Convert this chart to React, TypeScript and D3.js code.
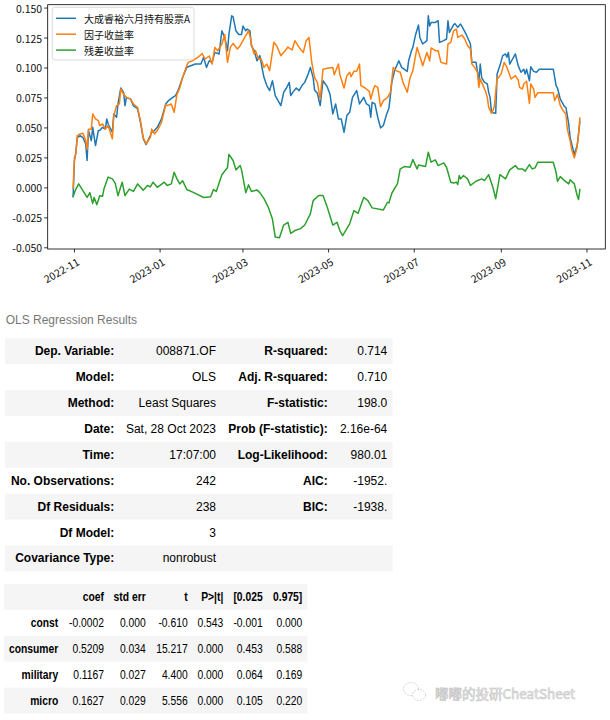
import React from "react";
import * as d3 from "d3";

// ---------- DATA ----------
const seriesNames = ["大成睿裕六月持有股票A", "因子收益率", "残差收益率"];
const seriesColors = ["#1f77b4", "#ff7f0e", "#2ca02c"];

const fundReturn: [string, number][] = [
  ["2022-10-31",-0.008],["2022-11-01",0.0228],["2022-11-02",0.0297],["2022-11-03",0.042],["2022-11-05",0.0436],["2022-11-07",0.042],["2022-11-09",0.0367],["2022-11-10",0.0228],["2022-11-11",0.0478],["2022-11-13",0.0394],["2022-11-14",0.0505],["2022-11-16",0.0353],["2022-11-18",0.0478],["2022-11-19",0.0478],["2022-11-21",0.0505],["2022-11-23",0.049],["2022-11-24",0.0575],["2022-11-25",0.0533],["2022-11-28",0.0464],["2022-11-29",0.0617],["2022-12-01",0.0589],["2022-12-02",0.07],["2022-12-04",0.0833],["2022-12-06",0.0797],["2022-12-07",0.0686],["2022-12-08",0.0755],["2022-12-11",0.074],["2022-12-13",0.0686],["2022-12-16",0.0658],["2022-12-18",0.0547],["2022-12-20",0.041],["2022-12-22",0.0361],["2022-12-25",0.0436],["2022-12-26",0.0464],["2022-12-28",0.0478],["2022-12-30",0.0505],["2023-01-02",0.0575],["2023-01-05",0.07],["2023-01-07",0.0728],["2023-01-10",0.0755],["2023-01-12",0.077],["2023-01-14",0.0817],["2023-01-17",0.092],["2023-01-20",0.1005],["2023-01-21",0.101],["2023-01-26",0.1033],["2023-01-30",0.1033],["2023-02-01",0.109],["2023-02-03",0.1005],["2023-02-05",0.106],["2023-02-07",0.1047],["2023-02-09",0.113],["2023-02-12",0.1117],["2023-02-14",0.131],["2023-02-16",0.1255],["2023-02-18",0.1144],["2023-02-19",0.128],["2023-02-21",0.1436],["2023-02-22",0.1427],["2023-02-24",0.131],["2023-02-26",0.128],["2023-02-28",0.128],["2023-03-01",0.135],["2023-03-03",0.131],["2023-03-04",0.1325],["2023-03-06",0.131],["2023-03-07",0.1186],["2023-03-09",0.1144],["2023-03-11",0.106],["2023-03-13",0.1103],["2023-03-15",0.0978],["2023-03-16",0.092],["2023-03-18",0.0853],["2023-03-20",0.0811],["2023-03-22",0.0894],["2023-03-24",0.077],["2023-03-26",0.0728],["2023-03-28",0.0686],["2023-03-30",0.0797],["2023-04-01",0.0833],["2023-04-03",0.088],["2023-04-04",0.077],["2023-04-06",0.0805],["2023-04-08",0.0833],["2023-04-10",0.0811],["2023-04-12",0.0853],["2023-04-14",0.088],["2023-04-16",0.0936],["2023-04-18",0.1005],["2023-04-20",0.092],["2023-04-21",0.0817],["2023-04-23",0.0789],["2023-04-25",0.0686],["2023-04-27",0.0894],["2023-04-30",0.0844],["2023-05-02",0.078],["2023-05-04",0.0617],["2023-05-06",0.07],["2023-05-08",0.0575],["2023-05-10",0.0575],["2023-05-12",0.0464],["2023-05-14",0.0603],["2023-05-16",0.063],["2023-05-18",0.0755],["2023-05-21",0.0811],["2023-05-23",0.07],["2023-05-26",0.0755],["2023-05-28",0.07],["2023-05-30",0.0686],["2023-05-31",0.0589],["2023-06-01",0.0714],["2023-06-03",0.07],["2023-06-05",0.0589],["2023-06-07",0.05],["2023-06-09",0.052],["2023-06-11",0.0603],["2023-06-13",0.0667],["2023-06-15",0.088],["2023-06-17",0.0978],["2023-06-20",0.106],["2023-06-22",0.1005],["2023-06-26",0.0972],["2023-06-27",0.106],["2023-06-29",0.1144],["2023-06-30",0.1172],["2023-07-02",0.128],["2023-07-04",0.1358],["2023-07-05",0.1255],["2023-07-07",0.12],["2023-07-10",0.1228],["2023-07-11",0.1436],["2023-07-12",0.135],["2023-07-13",0.138],["2023-07-16",0.138],["2023-07-18",0.1394],["2023-07-19",0.1214],["2023-07-22",0.1228],["2023-07-24",0.1242],["2023-07-25",0.1394],["2023-07-26",0.1297],["2023-07-29",0.136],["2023-07-30",0.137],["2023-08-01",0.1339],["2023-08-03",0.1367],["2023-08-05",0.1325],["2023-08-07",0.128],["2023-08-10",0.12],["2023-08-11",0.1047],["2023-08-14",0.1047],["2023-08-16",0.0894],["2023-08-17",0.1033],["2023-08-18",0.092],["2023-08-20",0.088],["2023-08-22",0.0867],["2023-08-23",0.0797],["2023-08-24",0.0755],["2023-08-25",0.063],["2023-08-28",0.0622],["2023-08-29",0.095],["2023-08-31",0.102],["2023-09-02",0.1103],["2023-09-04",0.1117],["2023-09-05",0.109],["2023-09-06",0.113],["2023-09-07",0.1033],["2023-09-09",0.1075],["2023-09-11",0.1117],["2023-09-13",0.102],["2023-09-15",0.0964],["2023-09-17",0.099],["2023-09-18",0.095],["2023-09-19",0.099],["2023-09-21",0.0894],["2023-09-22",0.101],["2023-09-24",0.0972],["2023-09-26",0.0964],["2023-09-28",0.099],["2023-10-08",0.099],["2023-10-10",0.0853],["2023-10-11",0.0833],["2023-10-13",0.074],["2023-10-16",0.0678],["2023-10-17",0.0672],["2023-10-19",0.0533],["2023-10-20",0.042],["2023-10-22",0.0325],["2023-10-23",0.0278],["2023-10-25",0.0353],["2023-10-26",0.045],["2023-10-27",0.056]
];

const factorReturn: [string, number][] = [
  ["2022-10-31",-0.001],["2022-11-01",0.0255],["2022-11-02",0.028],["2022-11-03",0.0436],["2022-11-05",0.045],["2022-11-07",0.0455],["2022-11-09",0.0394],["2022-11-10",0.032],["2022-11-11",0.049],["2022-11-13",0.049],["2022-11-14",0.0617],["2022-11-16",0.0575],["2022-11-18",0.056],["2022-11-19",0.052],["2022-11-21",0.0533],["2022-11-23",0.049],["2022-11-25",0.052],["2022-11-28",0.041],["2022-11-29",0.06],["2022-12-01",0.0686],["2022-12-03",0.07],["2022-12-04",0.0825],["2022-12-06",0.078],["2022-12-08",0.0755],["2022-12-11",0.074],["2022-12-13",0.07],["2022-12-16",0.067],["2022-12-18",0.056],["2022-12-20",0.042],["2022-12-22",0.0367],["2022-12-25",0.042],["2022-12-26",0.049],["2022-12-28",0.045],["2022-12-30",0.0478],["2023-01-02",0.0547],["2023-01-05",0.0694],["2023-01-06",0.0686],["2023-01-09",0.07],["2023-01-11",0.063],["2023-01-13",0.078],["2023-01-15",0.0833],["2023-01-17",0.092],["2023-01-20",0.102],["2023-01-21",0.1047],["2023-01-24",0.106],["2023-01-28",0.109],["2023-01-31",0.112],["2023-02-02",0.1075],["2023-02-05",0.11],["2023-02-07",0.1033],["2023-02-09",0.1172],["2023-02-11",0.1144],["2023-02-14",0.12],["2023-02-16",0.128],["2023-02-18",0.1047],["2023-02-20",0.1172],["2023-02-22",0.1205],["2023-02-25",0.1158],["2023-02-27",0.1186],["2023-03-01",0.1228],["2023-03-03",0.127],["2023-03-05",0.131],["2023-03-06",0.127],["2023-03-07",0.12],["2023-03-09",0.1117],["2023-03-10",0.1144],["2023-03-12",0.1075],["2023-03-14",0.1075],["2023-03-16",0.1005],["2023-03-18",0.1033],["2023-03-20",0.0978],["2023-03-23",0.1214],["2023-03-25",0.1186],["2023-03-28",0.1103],["2023-03-31",0.1144],["2023-04-02",0.1175],["2023-04-05",0.115],["2023-04-07",0.1228],["2023-04-10",0.1172],["2023-04-13",0.113],["2023-04-15",0.1228],["2023-04-17",0.1255],["2023-04-19",0.1047],["2023-04-21",0.092],["2023-04-23",0.088],["2023-04-25",0.074],["2023-04-27",0.099],["2023-05-01",0.1],["2023-05-04",0.1005],["2023-05-05",0.0944],["2023-05-08",0.1033],["2023-05-09",0.0944],["2023-05-12",0.0833],["2023-05-14",0.0936],["2023-05-16",0.0964],["2023-05-17",0.0928],["2023-05-19",0.0972],["2023-05-21",0.0972],["2023-05-23",0.1033],["2023-05-24",0.0853],["2023-05-27",0.0833],["2023-05-30",0.0805],["2023-05-31",0.074],["2023-06-02",0.0825],["2023-06-03",0.0853],["2023-06-05",0.0838],["2023-06-07",0.0678],["2023-06-09",0.0728],["2023-06-12",0.0755],["2023-06-14",0.0797],["2023-06-16",0.1005],["2023-06-18",0.0978],["2023-06-21",0.0964],["2023-06-23",0.088],["2023-06-26",0.0797],["2023-06-28",0.0917],["2023-06-30",0.0978],["2023-07-03",0.1172],["2023-07-06",0.106],["2023-07-07",0.1019],["2023-07-10",0.113],["2023-07-12",0.106],["2023-07-13",0.1167],["2023-07-16",0.1144],["2023-07-18",0.1144],["2023-07-20",0.1047],["2023-07-24",0.1033],["2023-07-25",0.12],["2023-07-27",0.1214],["2023-07-29",0.131],["2023-07-31",0.1325],["2023-08-01",0.1255],["2023-08-04",0.1275],["2023-08-06",0.124],["2023-08-08",0.1186],["2023-08-10",0.1158],["2023-08-11",0.1033],["2023-08-13",0.1005],["2023-08-15",0.0964],["2023-08-16",0.0838],["2023-08-17",0.0908],["2023-08-19",0.0853],["2023-08-21",0.0797],["2023-08-22",0.0755],["2023-08-23",0.0672],["2023-08-25",0.0622],["2023-08-26",0.0644],["2023-08-27",0.0678],["2023-08-29",0.092],["2023-08-30",0.0917],["2023-09-01",0.0955],["2023-09-03",0.1047],["2023-09-05",0.1005],["2023-09-08",0.0908],["2023-09-11",0.0936],["2023-09-13",0.09],["2023-09-14",0.0838],["2023-09-16",0.0825],["2023-09-17",0.0867],["2023-09-19",0.0889],["2023-09-21",0.0705],["2023-09-22",0.0867],["2023-09-24",0.0825],["2023-09-25",0.0755],["2023-09-27",0.0794],["2023-10-08",0.0794],["2023-10-09",0.0728],["2023-10-11",0.078],["2023-10-13",0.0686],["2023-10-15",0.0644],["2023-10-17",0.0617],["2023-10-18",0.049],["2023-10-20",0.0394],["2023-10-21",0.0325],["2023-10-23",0.025],["2023-10-25",0.0339],["2023-10-26",0.045],["2023-10-27",0.0589]
];

const residualReturn: [string, number][] = [
  ["2022-10-31",-0.0073],["2022-11-02",-0.001],["2022-11-04",0.0033],["2022-11-10",-0.008],["2022-11-12",-0.004],["2022-11-14",-0.013],["2022-11-15",-0.008],["2022-11-17",-0.014],["2022-11-19",-0.0065],["2022-11-21",-0.007],["2022-11-22",-0.001],["2022-11-25",0.009],["2022-11-28",0.0075],["2022-11-30",0.004],["2022-12-02",-0.0065],["2022-12-05",0.0047],["2022-12-07",-0.0065],["2022-12-10",-0.001],["2022-12-13",-0.003],["2022-12-16",0.0033],["2022-12-20",-0.002],["2022-12-23",0.002],["2022-12-25",0.0008],["2022-12-27",0.0047],["2022-12-30",0.0005],["2023-01-04",0.0047],["2023-01-06",0.002],["2023-01-09",0.0033],["2023-01-11",0.013],["2023-01-13",0.0075],["2023-01-15",0.0033],["2023-01-17",0.006],["2023-01-20",-0.0014],["2023-01-25",-0.004],["2023-02-01",-0.008],["2023-02-06",-0.0075],["2023-02-08",-0.0014],["2023-02-10",-0.003],["2023-02-14",0.011],["2023-02-18",0.017],["2023-02-19",0.028],["2023-02-22",0.0228],["2023-02-24",0.015],["2023-02-27",0.0186],["2023-02-28",0.015],["2023-03-03",-0.004],["2023-03-05",0.0025],["2023-03-07",-0.003],["2023-03-11",-0.0017],["2023-03-13",-0.004],["2023-03-16",-0.009],["2023-03-19",-0.016],["2023-03-22",-0.026],["2023-03-24",-0.041],["2023-03-27",-0.0417],["2023-03-30",-0.031],["2023-04-02",-0.0287],["2023-04-04",-0.038],["2023-04-07",-0.0356],["2023-04-11",-0.034],["2023-04-14",-0.031],["2023-04-18",-0.0217],["2023-04-20",-0.0106],["2023-04-24",-0.0064],["2023-04-27",-0.0064],["2023-04-30",-0.016],["2023-05-04",-0.031],["2023-05-07",-0.0287],["2023-05-09",-0.0356],["2023-05-11",-0.0398],["2023-05-16",-0.03],["2023-05-19",-0.019],["2023-05-22",-0.0212],["2023-05-26",-0.008],["2023-05-29",-0.0106],["2023-06-01",-0.0167],["2023-06-09",-0.0184],["2023-06-12",-0.012],["2023-06-13",-0.0125],["2023-06-15",-0.0045],["2023-06-19",0.0033],["2023-06-21",0.0158],["2023-06-24",0.0178],["2023-06-28",0.0172],["2023-06-30",0.0236],["2023-07-03",0.0158],["2023-07-04",0.019],["2023-07-09",0.0178],["2023-07-11",0.0297],["2023-07-13",0.0214],["2023-07-16",0.0233],["2023-07-18",0.0186],["2023-07-22",0.0208],["2023-07-24",0.0172],["2023-07-27",0.0047],["2023-07-29",0.004],["2023-07-31",0.0047],["2023-08-01",0.0028],["2023-08-02",0.0103],["2023-08-03",0.0075],["2023-08-05",0.0103],["2023-08-08",0.0075],["2023-08-10",0.002],["2023-08-14",0.0055],["2023-08-18",0.0075],["2023-08-20",0.006],["2023-08-23",0.011],["2023-08-26",0.0005],["2023-08-28",-0.009],["2023-08-31",0.011],["2023-09-04",0.0075],["2023-09-07",0.015],["2023-09-11",0.0186],["2023-09-13",0.0158],["2023-09-16",0.0158],["2023-09-18",0.0139],["2023-09-21",0.0194],["2023-09-23",0.0158],["2023-09-25",0.0167],["2023-09-27",0.0214],["2023-10-08",0.0214],["2023-10-10",0.013],["2023-10-11",0.0055],["2023-10-13",0.0094],["2023-10-16",0.006],["2023-10-19",0.0033],["2023-10-20",0.0067],["2023-10-23",0.0033],["2023-10-25",-0.0064],["2023-10-26",-0.0097],["2023-10-27",-0.0008]
];

const yTickValues = [-0.05, -0.025, 0, 0.025, 0.05, 0.075, 0.1, 0.125, 0.15];
const yLimits = [-0.051, 0.1528];

const tableCaption = "OLS Regression Results";
const summaryLabelsLeft = ["Dep. Variable:", "Model:", "Method:", "Date:", "Time:", "No. Observations:", "Df Residuals:", "Df Model:", "Covariance Type:"];
const summaryValuesLeft = ["008871.OF", "OLS", "Least Squares", "Sat, 28 Oct 2023", "17:07:00", "242", "238", "3", "nonrobust"];
const summaryLabelsRight = ["R-squared:", "Adj. R-squared:", "F-statistic:", "Prob (F-statistic):", "Log-Likelihood:", "AIC:", "BIC:", "", ""];
const summaryValuesRight = ["0.714", "0.710", "198.0", "2.16e-64", "980.01", "-1952.", "-1938.", "", ""];

const coefHeaders = ["", "coef", "std err", "t", "P>|t|", "[0.025", "0.975]"];
const coefNames = ["const", "consumer", "military", "micro"];
const coefValues = [
  ["-0.0002", "0.000", "-0.610", "0.543", "-0.001", "0.000"],
  ["0.5209", "0.034", "15.217", "0.000", "0.453", "0.588"],
  ["0.1167", "0.027", "4.400", "0.000", "0.064", "0.169"],
  ["0.1627", "0.029", "5.556", "0.000", "0.105", "0.220"],
];
const watermarkText = "嘟嘟的投研CheatSheet";

// ---------- LAYOUT ----------
const W = 610, H = 720;
const plot = { left: 47.7, right: 605.3, top: 4.7, bottom: 249 };
const chartFont = "'Noto Sans CJK SC', 'DejaVu Sans', sans-serif";
const tableFont = "Arial, 'Liberation Sans', sans-serif";
const t2ScaleX = 0.86;

export default function App() {
  const parse = d3.timeParse("%Y-%m-%d");
  const all = [fundReturn, factorReturn, residualReturn].map((s) =>
    s.map(([d, v]) => ({ date: parse(d) as Date, value: v }))
  );
  const ext = d3.extent(all.flat(), (d) => d.date) as [Date, Date];
  const span = +ext[1] - +ext[0];
  const x = d3
    .scaleTime()
    .domain([new Date(+ext[0] - span * 0.05), new Date(+ext[1] + span * 0.05)])
    .range([plot.left, plot.right]);
  const y = d3.scaleLinear().domain(yLimits).range([plot.bottom, plot.top]);
  const line = d3
    .line<{ date: Date; value: number }>()
    .x((d) => x(d.date))
    .y((d) => y(d.value));
  const xTicks = x.ticks(d3.timeMonth.every(2) as any);
  const fmtX = d3.timeFormat("%Y-%m");

  // table geometry
  const t1Top = 338.3, rowH = 25.9;
  const t1Cols = [114.3, 216, 327.7, 387.3];
  const t2Top = 584;
  const t2Cols = [58.3, 104, 145.7, 187.7, 223.3, 262.7, 302.3];

  return (
    <svg
      width={W}
      height={H}
      style={{ position: "absolute", left: 0, top: 0, background: "#fff" }}
    >
      <rect x={0} y={0} width={W} height={H} fill="#fff" />
      <defs>
        <clipPath id="plotclip">
          <rect x={plot.left} y={plot.top} width={plot.right - plot.left} height={plot.bottom - plot.top} />
        </clipPath>
      </defs>
      <g clipPath="url(#plotclip)">
        {all.map((s, i) => (
          <path key={i} d={line(s) || ""} fill="none" stroke={seriesColors[i]} strokeWidth={1.5} strokeLinejoin="round" />
        ))}
      </g>
      {/* spines */}
      <rect x={plot.left} y={plot.top} width={plot.right - plot.left} height={plot.bottom - plot.top} fill="none" stroke="#000" strokeWidth={0.8} />
      {/* y axis */}
      {yTickValues.map((v) => (
        <g key={v}>
          <line x1={plot.left - 3.5} x2={plot.left} y1={y(v)} y2={y(v)} stroke="#000" strokeWidth={0.8} />
          <text x={plot.left - 5.5} y={y(v)} textAnchor="end" dominantBaseline="central" fontSize={10.5} fontFamily={chartFont} fill="#111">
            {v.toFixed(3)}
          </text>
        </g>
      ))}
      {/* x axis */}
      {xTicks.map((t) => (
        <g key={+t}>
          <line x1={x(t)} x2={x(t)} y1={plot.bottom} y2={plot.bottom + 3.5} stroke="#000" strokeWidth={0.8} />
          <text
            transform={`translate(${x(t) + 1},${plot.bottom + 7}) rotate(-30)`}
            textAnchor="end"
            dominantBaseline="hanging"
            fontSize={10.5}
            fontFamily={chartFont}
            fill="#111"
          >
            {fmtX(t)}
          </text>
        </g>
      ))}
      {/* legend */}
      <rect x={52.3} y={7.3} width={141.7} height={52.7} rx={2.5} fill="#fff" fillOpacity={0.8} stroke="#d0d0d0" strokeWidth={0.8} />
      {seriesNames.map((n, i) => (
        <g key={n}>
          <line x1={56} x2={76} y1={18.3 + i * 15.9} y2={18.3 + i * 15.9} stroke={seriesColors[i]} strokeWidth={1.5} />
          <text x={84} y={18.3 + i * 15.9} dominantBaseline="central" fontSize={10} fontFamily={chartFont} fill="#111">
            {n}
          </text>
        </g>
      ))}

      {/* caption */}
      <text x={5.7} y={320} dominantBaseline="central" fontSize={12} fontFamily={tableFont} fill="#777">
        {tableCaption}
      </text>
      {/* summary table */}
      {summaryLabelsLeft.map((lab, i) => {
        const cy = t1Top + rowH * (i + 0.5);
        return (
          <g key={lab}>
            {i % 2 === 0 && <rect x={5} y={t1Top + rowH * i} width={387.7} height={rowH} fill="#f5f5f5" />}
            <text x={t1Cols[0]} y={cy} textAnchor="end" dominantBaseline="central" fontSize={12} fontWeight="bold" fontFamily={tableFont} fill="#000">{lab}</text>
            <text x={t1Cols[1]} y={cy} textAnchor="end" dominantBaseline="central" fontSize={12} fontFamily={tableFont} fill="#000">{summaryValuesLeft[i]}</text>
            <text x={t1Cols[2]} y={cy} textAnchor="end" dominantBaseline="central" fontSize={12} fontWeight="bold" fontFamily={tableFont} fill="#000">{summaryLabelsRight[i]}</text>
            <text x={t1Cols[3]} y={cy} textAnchor="end" dominantBaseline="central" fontSize={12} fontFamily={tableFont} fill="#000">{summaryValuesRight[i]}</text>
          </g>
        );
      })}
      {/* coefficient table */}
      <rect x={4} y={t2Top} width={303.3} height={rowH} fill="#f5f5f5" />
      {coefNames.map((nm, i) =>
        i % 2 === 1 ? (
          <rect key={nm} x={4} y={t2Top + rowH * (i + 1)} width={303.3} height={rowH} fill="#f5f5f5" />
        ) : null
      )}
      <g transform={`scale(${t2ScaleX},1)`}>
        {coefHeaders.map((h, j) => (
          <text key={j} x={t2Cols[j] / t2ScaleX} y={t2Top + rowH / 2} textAnchor="end" dominantBaseline="central" fontSize={12} fontWeight="bold" fontFamily={tableFont} fill="#000">{h}</text>
        ))}
        {coefNames.map((nm, i) => {
          const cy = t2Top + rowH * (i + 1) + rowH / 2;
          return (
            <g key={nm}>
              <text x={t2Cols[0] / t2ScaleX} y={cy} textAnchor="end" dominantBaseline="central" fontSize={12} fontWeight="bold" fontFamily={tableFont} fill="#000">{nm}</text>
              {coefValues[i].map((v, j) => (
                <text key={j} x={t2Cols[j + 1] / t2ScaleX} y={cy} textAnchor="end" dominantBaseline="central" fontSize={12} fontFamily={tableFont} fill="#000">{v}</text>
              ))}
            </g>
          );
        })}
      </g>
      {/* watermark */}
      <g>
        <ellipse cx={411} cy={689} rx={7.5} ry={6.5} fill="none" stroke="#cfcfcf" strokeWidth={0.9} strokeDasharray="2 1.2" />
        <ellipse cx={419} cy={695} rx={6.5} ry={5.5} fill="#fff" stroke="#cfcfcf" strokeWidth={0.9} strokeDasharray="2 1.2" />
        <text x={435} y={693} dominantBaseline="central" fontSize={13.5} fontFamily={chartFont} fill="#f4f4f4" stroke="#c4c4c4" strokeWidth={0.6}>
          {watermarkText}
        </text>
      </g>
    </svg>
  );
}
